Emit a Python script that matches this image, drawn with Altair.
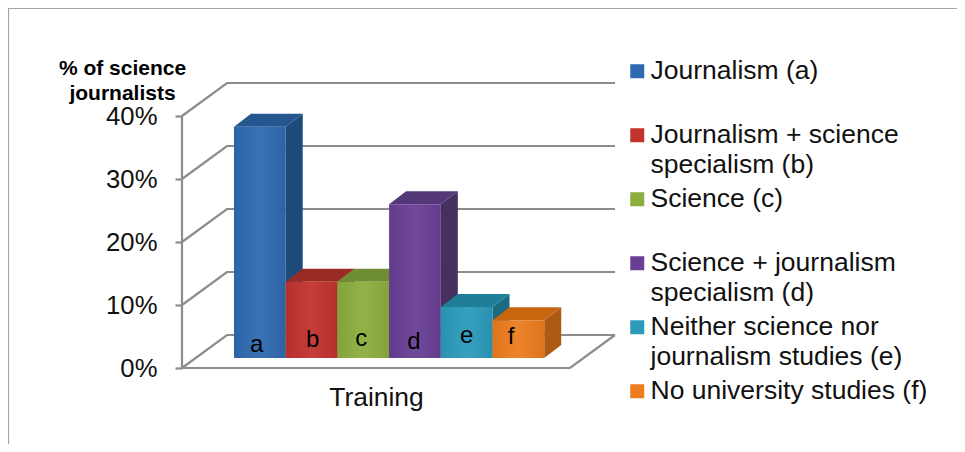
import altair as alt
import pandas as pd

FONT = "Liberation Sans"
GRID = "#8c8c8c"
FRAME = "#a6a6a6"

# --- values
categories = ["Journalism (a)", "Journalism + science|specialism (b)", "Science (c)",
              "Science + journalism|specialism (d)", "Neither science nor|journalism studies (e)",
              "No university studies (f)"]
letters = ["a", "b", "c", "d", "e", "f"]
values = [0.367, 0.121, 0.121, 0.244, 0.081, 0.060]
front_colors = ["#2e6ab1", "#c2322e", "#8cae3e", "#693f96", "#2b9bbb", "#ec7d1f"]
top_colors = ["#24568f", "#9a2b22", "#6f8e34", "#523878", "#1f7f98", "#c8660f"]
side_colors = ["#1e4a7c", "#842521", "#5f7a2c", "#46305f", "#1a6a80", "#ad5a14"]
letter_shift = [-0.06, 0.02, -0.04, -0.02, 0.0, -0.14]
letter_height = [0.026, 0.033, 0.035, 0.030, 0.040, 0.038]
tick_values = [0.0, 0.1, 0.2, 0.3, 0.4]

# --- 3D box geometry, in data units (x: one unit = one bar width)
X_MAX = 8.375
Y_MAX = 0.4524
FIRST_BAR = 1.006
BAR_BASE = 0.0159
BAR_DX = 0.329
BAR_DY = 0.0206
WALL_DX = 0.87
WALL_DY = 0.0524
FLOOR_RIGHT = 7.505

xs = alt.Scale(domain=[0, X_MAX], nice=False, zero=False)
ys = alt.Scale(domain=[0, Y_MAX], nice=False, zero=False)

fronts, tops, sides, grid_rows = [], [], [], []
for i, (c, v) in enumerate(zip(categories, values)):
    x0, x1 = FIRST_BAR + i, FIRST_BAR + i + 1
    h = BAR_BASE + v
    fronts.append(dict(cat=c, x0=x0, x1=x1, y0=BAR_BASE, y1=h, letter=letters[i],
                       lx=(x0 + x1) / 2 + letter_shift[i], ly=letter_height[i]))
    for px, up, lo in [(x0, h, h), (x0 + BAR_DX, h + BAR_DY, h), (x1, h + BAR_DY, h), (x1 + BAR_DX, h + BAR_DY, h + BAR_DY)]:
        tops.append(dict(face=top_colors[i], x=px, up=up, lo=lo))
    for px, up, lo in [(x1, h, BAR_BASE), (x1 + BAR_DX, h + BAR_DY, BAR_BASE + BAR_DY)]:
        sides.append(dict(face=side_colors[i], x=px, up=up, lo=lo))

for t in tick_values:
    grid_rows += [dict(line=f"g{t}", k=0, x=0, y=t),
                  dict(line=f"g{t}", k=1, x=WALL_DX, y=t + WALL_DY),
                  dict(line=f"g{t}", k=2, x=X_MAX, y=t + WALL_DY)]
grid_rows += [dict(line="floor", k=0, x=0, y=0), dict(line="floor", k=1, x=FLOOR_RIGHT, y=0),
              dict(line="floor", k=2, x=X_MAX, y=WALL_DY),
              dict(line="wall", k=0, x=0, y=0), dict(line="wall", k=1, x=0, y=max(tick_values))]

front_df, top_df, side_df, grid_df = map(pd.DataFrame, (fronts, tops, sides, grid_rows))

grid = alt.Chart(grid_df).mark_line(color=GRID, strokeWidth=2.2, strokeJoin="miter").encode(
    x=alt.X("x:Q", scale=xs, axis=alt.Axis(title="Training", labels=False, ticks=False, domain=False,
                                            grid=False, titleFont=FONT, titleFontSize=26.4,
                                            titleFontWeight="normal", titleColor="#111111",
                                            titleX=194, titleY=37, titleAlign="center",
                                            titleBaseline="alphabetic")),
    y=alt.Y("y:Q", scale=ys, axis=alt.Axis(values=tick_values, format=".0%", grid=False, domain=False,
                                            tickColor=GRID, tickWidth=2.2, tickSize=7, labelPadding=18,
                                            labelFont=FONT, labelFontSize=25.7, labelColor="#111111",
                                            title=["% of science", "journalists"], titleFont=FONT,
                                            titleFontSize=21, titleFontWeight="bold", titleColor="#000000",
                                            titleLineHeight=25, titleAngle=0, titleAlign="center",
                                            titleBaseline="alphabetic", titleX=-60, titleY=-9)),
    detail="line:N", order="k:Q")

side_layer = alt.Chart(side_df).mark_area(opacity=1).encode(
    x=alt.X("x:Q", scale=xs), y=alt.Y("up:Q", scale=ys), y2="lo:Q", fill=alt.Fill("face:N", scale=None))
top_layer = alt.Chart(top_df).mark_area(opacity=1).encode(
    x=alt.X("x:Q", scale=xs), y=alt.Y("up:Q", scale=ys), y2="lo:Q", fill=alt.Fill("face:N", scale=None))

front_layer = alt.Chart(front_df).mark_rect(opacity=1).encode(
    x=alt.X("x0:Q", scale=xs), x2="x1:Q",
    y=alt.Y("y0:Q", scale=ys), y2="y1:Q",
    color=alt.Color("cat:N", sort=categories,
                    scale=alt.Scale(domain=categories, range=front_colors),
                    legend=alt.Legend(title=None, orient="none", legendX=442, legendY=-25, columns=1,
                                      symbolType="square", symbolSize=196, symbolStrokeWidth=0,
                                      symbolOpacity=1, labelFont=FONT, labelFontSize=26.5,
                                      labelColor="#111111", labelLimit=400, labelOffset=0,
                                      gridAlign="all", rowPadding=7,
                                      labelExpr="split(datum.label, '|')")))

sheen = alt.Chart(front_df).mark_rect(
    fill=alt.Gradient(gradient="linear", x1=0, x2=1, y1=0, y2=0, stops=[
        alt.GradientStop(offset=0, color="rgba(0,0,0,0.06)"),
        alt.GradientStop(offset=0.5, color="rgba(255,255,255,0.05)"),
        alt.GradientStop(offset=1, color="rgba(0,0,0,0.07)")])).encode(
    x=alt.X("x0:Q", scale=xs), x2="x1:Q", y=alt.Y("y0:Q", scale=ys), y2="y1:Q")

letter_layer = alt.Chart(front_df).mark_text(font=FONT, fontSize=24, color="#000000", baseline="alphabetic").encode(
    x=alt.X("lx:Q", scale=xs), y=alt.Y("ly:Q", scale=ys), text="letter:N")

frame = alt.Chart(pd.DataFrame({"k": [0]})).mark_rule(color=FRAME, strokeWidth=1.2)
frame_left = frame.encode(x=alt.value(-173.5), y=alt.value(-75), y2=alt.value(361))
frame_top = frame.encode(x=alt.value(-174), x2=alt.value(775), y=alt.value(-74.5))

chart = alt.layer(frame_left, frame_top, grid, side_layer, top_layer, front_layer, sheen, letter_layer).properties(
    width=433, height=285,
    padding={"left": 174, "top": 75, "right": 342, "bottom": 76},
    autosize=alt.AutoSizeParams(type="none"),
    config={"view": {"stroke": None}, "style": {"guide-label": {"lineHeight": 30}}},
)

chart.save("out.html", embed_options={"renderer": "svg", "actions": False})
